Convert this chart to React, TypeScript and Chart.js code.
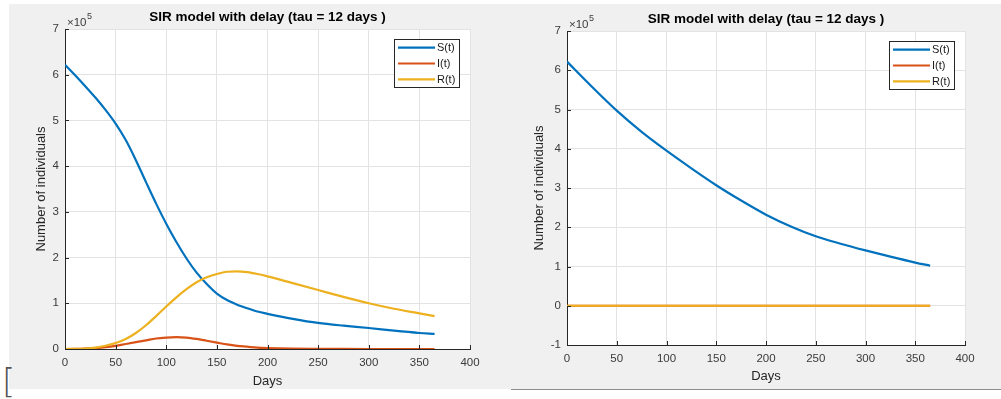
import { useEffect, useRef } from "react";
import { Chart, registerables } from "chart.js";

Chart.register(...registerables);

// ---- text ----
const TITLE = "SIR model with delay (tau = 12 days )";
const X_LABEL = "Days";
const Y_LABEL = "Number of individuals";
const SERIES = ["S(t)", "I(t)", "R(t)"];
const SERIES_COLORS = ["#0072BD", "#D95319", "#EDB120"];

// ---- left panel: epidemic run ----
const leftDays = [0, 10, 20, 30, 40, 50, 60, 70, 80, 90, 100, 110, 120, 130, 140, 150, 160, 170, 180, 190, 200, 225, 250, 275, 300, 325, 350, 365];
const leftS = [622000, 599000, 575000, 550000, 523000, 493000, 457000, 413000, 365000, 318000, 274000, 234000, 198000, 167000, 142000, 121000, 107000, 97000, 89000, 82000, 77000, 66000, 57000, 51000, 46000, 40000, 35000, 33000];
const leftI = [0, 200, 800, 2000, 4000, 7000, 11000, 15000, 19000, 23000, 25000, 26000, 25000, 22000, 18000, 14000, 10000, 7000, 5000, 3000, 2000, 700, 300, 100, 0, 0, 0, 0];
const leftR = [0, 300, 1000, 3000, 7000, 13000, 22000, 35000, 52000, 72000, 93000, 113000, 131000, 146000, 157000, 164000, 169000, 170000, 168000, 164000, 159000, 144000, 129000, 114000, 100000, 88000, 78000, 72000];

// ---- right panel: no outbreak ----
const rightDays = [0, 25, 50, 75, 100, 125, 150, 175, 200, 225, 250, 275, 300, 325, 350, 365];
const rightS = [622000, 558000, 497000, 443000, 395000, 350000, 307000, 268000, 232000, 202000, 177000, 158000, 141000, 125000, 110000, 102000];
const rightI = [0, 0, 0, 0, 0, 0, 0, 0, 0, 0, 0, 0, 0, 0, 0, 0];
const rightR = [0, 0, 0, 0, 0, 0, 0, 0, 0, 0, 0, 0, 0, 0, 0, 0];

// ---- axes ----
const X_MIN = 0;
const X_MAX = 400;
const X_STEP = 50;
const LEFT_Y_MIN = 0;
const RIGHT_Y_MIN = -100000;
const Y_MAX = 700000;
const Y_STEP = 100000;
const Y_EXPONENT = 5;

const FONT = '"Liberation Sans", Arial, Helvetica, sans-serif';
const AXIS_COLOR = "#262626";
const TICK_COLOR = "#3a3a3a";
const GRID_COLOR = "#e3e3e3";

// White axes box, inward ticks, exponent label and a boxed legend inside the axes
const matlabDecor = {
  id: "matlabDecor",
  beforeDraw(chart: any) {
    const { ctx, chartArea: a } = chart;
    ctx.save();
    ctx.fillStyle = "#ffffff";
    ctx.fillRect(a.left, a.top, a.right - a.left, a.bottom - a.top);
    ctx.restore();
  },
  afterDraw(chart: any) {
    const { ctx, chartArea: a, scales } = chart;
    ctx.save();

    // inward tick marks
    ctx.strokeStyle = AXIS_COLOR;
    ctx.lineWidth = 1;
    ctx.beginPath();
    for (const t of scales.x.ticks) {
      const px = Math.round(scales.x.getPixelForValue(t.value)) + 0.5;
      ctx.moveTo(px, a.bottom);
      ctx.lineTo(px, a.bottom - 4);
    }
    for (const t of scales.y.ticks) {
      const py = Math.round(scales.y.getPixelForValue(t.value)) + 0.5;
      ctx.moveTo(a.left, py);
      ctx.lineTo(a.left + 4, py);
    }
    ctx.stroke();

    // axis exponent
    ctx.fillStyle = TICK_COLOR;
    ctx.textAlign = "left";
    ctx.textBaseline = "middle";
    ctx.font = `11.5px ${FONT}`;
    const base = "\u00d710";
    ctx.fillText(base, a.left + 2, a.top - 6.5);
    const w = ctx.measureText(base).width;
    ctx.font = `9px ${FONT}`;
    ctx.fillText(String(Y_EXPONENT), a.left + 2.5 + w, a.top - 12.5);

    // legend
    const bw = 66;
    const bh = 49;
    const bx = Math.round(a.right - 10 - bw);
    const by = Math.round(a.top + 10);
    ctx.fillStyle = "#ffffff";
    ctx.fillRect(bx, by, bw, bh);
    ctx.strokeStyle = AXIS_COLOR;
    ctx.lineWidth = 1;
    ctx.strokeRect(bx + 0.5, by + 0.5, bw - 1, bh - 1);
    ctx.font = `11px ${FONT}`;
    chart.data.datasets.forEach((ds: any, i: number) => {
      const y = by + 8.7 + i * 15.8;
      ctx.strokeStyle = ds.borderColor;
      ctx.lineWidth = 2.2;
      ctx.beginPath();
      ctx.moveTo(bx + 4, y);
      ctx.lineTo(bx + 41, y);
      ctx.stroke();
      ctx.fillStyle = "#1a1a1a";
      ctx.fillText(ds.label, bx + 43, y + 0.5);
    });

    ctx.restore();
  },
};

type PanelProps = {
  days: number[];
  s: number[];
  i: number[];
  r: number[];
  yMin: number;
  width: number;
  height: number;
  pad: { left: number; right: number; top: number };
  yAxisWidth: number;
  xAxisHeight: number;
  yTitlePad: number;
  xTitlePad: number;
  titlePadTop: number;
};

function SirPanel(p: PanelProps) {
  const ref = useRef<HTMLCanvasElement>(null);

  useEffect(() => {
    if (!ref.current) return;
    const series = [p.s, p.i, p.r];
    const chart = new Chart(ref.current, {
      type: "line",
      data: {
        datasets: series.map((vals, k) => ({
          label: SERIES[k],
          data: p.days.map((d, j) => ({ x: d, y: vals[j] })),
          borderColor: SERIES_COLORS[k],
          backgroundColor: SERIES_COLORS[k],
          borderWidth: 2.2,
          pointRadius: 0,
          fill: false,
          cubicInterpolationMode: "monotone" as const,
          // later series are painted on top
          order: 2 - k,
        })),
      },
      plugins: [matlabDecor],
      options: {
        animation: false,
        responsive: false,
        maintainAspectRatio: false,
        events: [],
        layout: { padding: { left: p.pad.left, right: p.pad.right, top: p.pad.top, bottom: 0 } },
        plugins: {
          legend: { display: false },
          tooltip: { enabled: false },
          title: {
            display: true,
            text: TITLE,
            fullSize: false,
            color: "#000000",
            font: { family: FONT, size: 13.5, weight: "bold" },
            padding: { top: p.titlePadTop, bottom: 3.4 },
          },
        },
        scales: {
          x: {
            type: "linear",
            min: X_MIN,
            max: X_MAX,
            afterFit: (scale: any) => {
              scale.height = p.xAxisHeight;
            },
            ticks: {
              stepSize: X_STEP,
              autoSkip: false,
              maxRotation: 0,
              padding: 7.4,
              color: TICK_COLOR,
              font: { family: FONT, size: 11.5 },
            },
            grid: { color: GRID_COLOR, lineWidth: 1, drawTicks: false },
            border: { display: true, color: AXIS_COLOR, width: 1 },
            title: {
              display: true,
              text: X_LABEL,
              color: "#262626",
              font: { family: FONT, size: 13 },
              padding: { top: 0, bottom: p.xTitlePad },
            },
          },
          y: {
            type: "linear",
            min: p.yMin,
            max: Y_MAX,
            afterFit: (scale: any) => {
              scale.width = p.yAxisWidth;
            },
            ticks: {
              stepSize: Y_STEP,
              padding: 6,
              color: TICK_COLOR,
              font: { family: FONT, size: 11.5 },
              callback: (v: any) => String(Number(v) / Math.pow(10, Y_EXPONENT)),
            },
            grid: { color: GRID_COLOR, lineWidth: 1, drawTicks: false },
            border: { display: true, color: AXIS_COLOR, width: 1 },
            title: {
              display: true,
              text: Y_LABEL,
              color: "#262626",
              font: { family: FONT, size: 13 },
              padding: { top: p.yTitlePad, bottom: 0 },
            },
          },
        },
      },
    } as any);
    return () => chart.destroy();
  }, []);

  return (
    <canvas
      ref={ref}
      width={p.width}
      height={p.height}
      style={{ width: p.width, height: p.height, display: "block" }}
    />
  );
}

export default function App() {
  return (
    <div style={{ position: "absolute", left: 0, top: 0, width: 1001, height: 399, background: "#ffffff", overflow: "hidden" }}>
      <div style={{ position: "absolute", left: 9, top: 4, width: 992, height: 385, background: "#f0f0f0" }} />
      <div style={{ position: "absolute", left: 511, top: 389, width: 490, height: 1, background: "#8c8c8c" }} />
      <span
        style={{
          position: "absolute",
          left: 2,
          top: 364,
          fontFamily: '"DejaVu Sans", sans-serif',
          fontWeight: 200,
          fontSize: 34,
          lineHeight: 1,
          color: "#555555",
        }}
      >
        [
      </span>
      <div style={{ position: "absolute", left: 0, top: 0 }}>
        <SirPanel
          days={leftDays}
          s={leftS}
          i={leftI}
          r={leftR}
          yMin={LEFT_Y_MIN}
          width={500}
          height={399}
          pad={{ left: 20, right: 30, top: 4 }}
          yAxisWidth={45}
          xAxisHeight={50}
          yTitlePad={13.2}
          xTitlePad={9.5}
          titlePadTop={5.4}
        />
      </div>
      <div style={{ position: "absolute", left: 500, top: 0 }}>
        <SirPanel
          days={rightDays}
          s={rightS}
          i={rightI}
          r={rightR}
          yMin={RIGHT_Y_MIN}
          width={501}
          height={399}
          pad={{ left: 20, right: 36, top: 4 }}
          yAxisWidth={47}
          xAxisHeight={54}
          yTitlePad={11.2}
          xTitlePad={14.5}
          titlePadTop={7.4}
        />
      </div>
    </div>
  );
}
